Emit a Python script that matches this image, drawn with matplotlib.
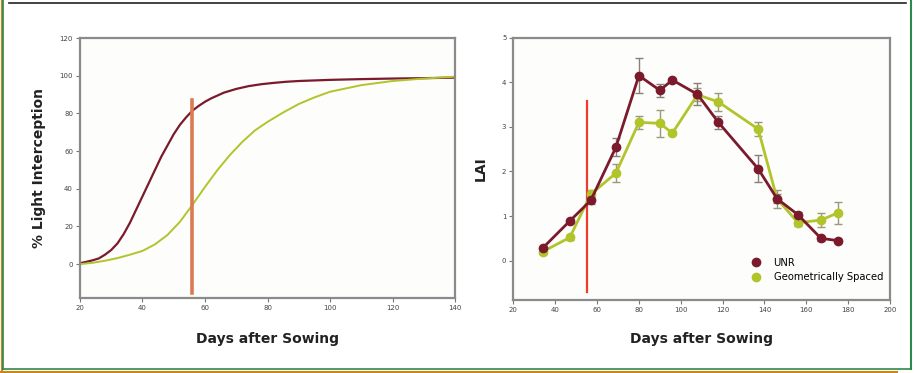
import numpy as np
import matplotlib.pyplot as plt
from matplotlib.lines import Line2D

# left panel: % light interception curves
unr_days = [20, 22, 24, 26, 28, 30, 32, 34, 36, 38, 40, 42, 44, 46, 48, 50, 52, 54, 56, 58, 60,
            62, 64, 66, 68, 70, 74, 78, 82, 86, 90, 100, 110, 120, 130, 140]
li_unr = [0.5, 1.2, 2, 3, 5, 7.5, 11, 16, 22, 29, 36, 43, 50, 57, 63, 69, 74, 78, 81.5, 84, 86.2,
          88, 89.5, 91, 92, 93, 94.5, 95.5, 96.2, 96.8, 97.2, 97.8, 98.2, 98.5, 98.7, 99]
geo_days = [20, 24, 28, 32, 36, 40, 44, 48, 52, 56, 60, 64, 68, 72, 76, 80, 85, 90, 95, 100,
            110, 120, 130, 140]
li_geo = [0, 0.7, 1.8, 3.2, 5, 7, 10.5, 15.5, 22.5, 31.5, 41, 50, 58, 65, 71, 75.5, 80.5, 85,
          88.5, 91.5, 95, 97.2, 98.5, 99.5]

# right panel: LAI
lai_days = [34, 47, 57, 69, 80, 90, 96, 108, 118, 137, 146, 156, 167, 175]
lai_unr = [0.28, 0.89, 1.35, 2.54, 4.15, 3.82, 4.05, 3.73, 3.1, 2.06, 1.39, 1.03, 0.5, 0.45]
lai_unr_err = [0.03, 0.05, 0.08, 0.2, 0.4, 0.15, 0.05, 0.25, 0.15, 0.3, 0.1, 0.05, 0.05, 0.04]
lai_geo = [0.2, 0.52, 1.49, 1.96, 3.1, 3.08, 2.86, 3.72, 3.56, 2.95, 1.39, 0.85, 0.91, 1.07]
lai_geo_err = [0.05, 0.05, 0.1, 0.2, 0.15, 0.3, 0.05, 0.15, 0.2, 0.15, 0.2, 0.08, 0.15, 0.25]

sowing_mark_left = 55.7
sowing_mark_right = 55

red = '#7a1a2c'
green = '#b2c42c'

fig = plt.figure(figsize=(9.15, 3.73), dpi=100)

def style_axes(ax):
    for s in ax.spines.values():
        s.set_color('#8a8a8a')
        s.set_linewidth(1.6)
    ax.tick_params(direction='out', length=3, width=0.8, color='#777777',
                   labelsize=5, labelcolor='#444444', pad=2)
    ax.set_facecolor('#fdfdfb')

# left plot
ax1 = fig.add_axes([0.0874, 0.201, 0.41, 0.697])
ax1.plot(unr_days, li_unr, color=red, lw=1.6)
ax1.plot(geo_days, li_geo, color=green, lw=1.4)
ax1.plot([sowing_mark_left, sowing_mark_left], [-15.5, 87], color='#d97a55', lw=2.6)
ax1.set_xlim(20, 140)
ax1.set_ylim(-18, 120)
ax1.set_xticks(np.arange(20, 141, 20))
ax1.set_yticks(np.arange(0, 121, 20))
ax1.set_xlabel('Days after Sowing', fontsize=10, fontweight='bold', color='#222222', labelpad=15)
ax1.set_ylabel('% Light Interception', fontsize=10, fontweight='bold', color='#222222', labelpad=10)
style_axes(ax1)

# right plot
ax2 = fig.add_axes([0.561, 0.196, 0.4117, 0.703])
ax2.plot([sowing_mark_right, sowing_mark_right], [-0.71, 3.58], color='#ee3b2b', lw=1.6, zorder=1)
ax2.errorbar(lai_days, lai_unr, yerr=lai_unr_err, color=red, lw=2, marker='o', ms=6,
             ecolor='#8c7f78', elinewidth=1, capsize=3, label='UNR', zorder=3)
ax2.errorbar(lai_days, lai_geo, yerr=lai_geo_err, color=green, lw=2, marker='o', ms=6,
             ecolor='#9a9a78', elinewidth=1, capsize=3, label='Geometrically Spaced', zorder=2)
ax2.set_xlim(20, 200)
ax2.set_ylim(-0.88, 5)
ax2.set_xticks(np.arange(20, 201, 20))
ax2.set_yticks(np.arange(0, 6, 1))
ax2.set_xlabel('Days after Sowing', fontsize=10, fontweight='bold', color='#222222', labelpad=14)
ax2.set_ylabel('LAI', fontsize=10, fontweight='bold', color='#222222', labelpad=10)
style_axes(ax2)
handles = [Line2D([], [], color=red, marker='o', ls='none', ms=6),
           Line2D([], [], color=green, marker='o', ls='none', ms=6)]
ax2.legend(handles, ['UNR', 'Geometrically Spaced'], loc='lower right', frameon=False,
           fontsize=7.2, handletextpad=0.8, labelspacing=0.45, borderaxespad=0.3,
           bbox_to_anchor=(1.0, 0.04))

# page decorations: top rule and coloured border
fig.add_artist(Line2D([9 / 915, 906 / 915], [1 - 3 / 373, 1 - 3 / 373], color='#222222', lw=1.2))
fig.add_artist(Line2D([1.5 / 915, 1.5 / 915], [0, 1], color='#c8861c', lw=1.5))
fig.add_artist(Line2D([2.8 / 915, 2.8 / 915], [4 / 373, 1], color='#2e8a4a', lw=1.2))
fig.add_artist(Line2D([0, 897 / 915], [1.2 / 373, 1.2 / 373], color='#c8861c', lw=1.5))
fig.add_artist(Line2D([3 / 915, 911 / 915], [3.8 / 373, 3.8 / 373], color='#2e8a4a', lw=1.2))
fig.add_artist(Line2D([911 / 915, 911 / 915], [3.8 / 373, 1], color='#2e8a4a', lw=1.5))

fig.savefig('out.png', dpi=100)
